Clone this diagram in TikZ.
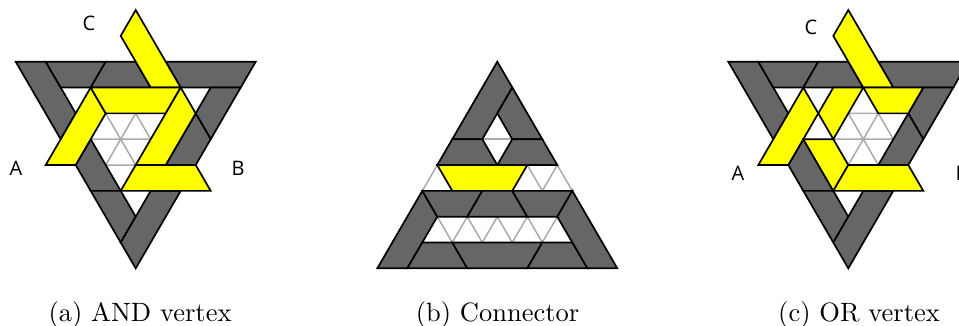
\documentclass[tikz,border=0pt]{standalone}
\usepackage{fontspec}
\newfontfamily\lblfont{Open Sans}
\definecolor{pgray}{HTML}{666666}
\definecolor{lgray}{HTML}{AAAAAA}
\definecolor{pyellow}{RGB}{255,255,0}
\tikzset{
  gp/.style={fill=pgray,draw=black,line width=1.7pt,line join=miter},
  yp/.style={fill=pyellow,draw=black,line width=1.7pt,line join=miter},
  gl/.style={draw=lgray,line width=1.5pt},
  lab/.style={font=\lblfont\fontsize{20}{22}\selectfont,inner sep=0pt},
  captext/.style={font=\fontsize{10}{12}\selectfont,inner sep=0pt,anchor=base,scale=2.65},
  panel/.style={shift={(#1pt,-61.7pt)},x=15pt,y=-25.83pt}
}
\newcommand{\vertexgray}{%
  \draw[gp] (-8,0)--(-6,0)--(-4,2)--(-5,3)--cycle;
  \draw[gp] (-6,0)--(-2,0)--(-3,1)--(-5,1)--cycle;
  \draw[gp] (-2,0)--(0,0)--(1,1)--(-3,1)--cycle;
  \draw[gp] (2,0)--(8,0)--(7,1)--(3,1)--cycle;
  \draw[gp] (5,1)--(7,1)--(5,3)--(4,2)--cycle;
  \draw[gp] (4,2)--(5,3)--(4,4)--(2,4)--cycle;
  \draw[gp] (-4,4)--(-3,3)--(-1,5)--(-3,5)--cycle;
  \draw[gp] (-3,5)--(-1,5)--(0,6)--(-1,7)--cycle;
  \draw[gp] (1,5)--(3,5)--(0,8)--(-1,7)--cycle;
}
\begin{document}
\begin{tikzpicture}
\useasboundingbox (0,0) rectangle (959pt,-325pt);
% (a) AND vertex
\begin{scope}[panel=135.7]
  \draw[gl] (-3,3)--(1,3) (-2,4)--(0,4) (0,2)--(-2,4) (-2,2)--(0,4) (0,2)--(1,3);
  \vertexgray
  \draw[yp] (0,-2)--(-1,-1)--(1,1)--(3,1)--cycle;
  \draw[yp] (-6,4)--(-3,1)--(-2,2)--(-4,4)--cycle;
  \draw[yp] (-3,1)--(3,1)--(2,2)--(-2,2)--cycle;
  \draw[yp] (3,1)--(4,2)--(2,4)--(0,4)--cycle;
  \draw[yp] (0,4)--(4,4)--(5,5)--(-1,5)--cycle;
\end{scope}
% (b) Connector
\begin{scope}[panel=497.3]
  \draw[gl] (-1,3)--(1,3);
  \draw[gl] (-5,5)--(-4,4) (2,4)--(3,5)--(4,4)--(5,5);
  \draw[gl] (-5,7)--(5,7) (-8,8)--(8,8);
  \draw[gl] (-4,6)--(-3,7)--(-2,6)--(-1,7)--(0,6)--(1,7)--(2,6)--(3,7)--(4,6);
  \draw[gp] (0,0)--(1,1)--(-1,3)--(-3,3)--cycle;
  \draw[gp] (1,1)--(3,3)--(1,3)--(0,2)--cycle;
  \draw[gp] (-3,3)--(-1,3)--(0,4)--(-4,4)--cycle;
  \draw[gp] (1,3)--(3,3)--(4,4)--(0,4)--cycle;
  \draw[yp] (-4,4)--(2,4)--(1,5)--(-3,5)--cycle;
  \draw[gp] (-5,5)--(-4,6)--(-6,8)--(-8,8)--cycle;
  \draw[gp] (-5,5)--(-1,5)--(-2,6)--(-4,6)--cycle;
  \draw[gp] (-1,5)--(1,5)--(2,6)--(-2,6)--cycle;
  \draw[gp] (1,5)--(5,5)--(4,6)--(2,6)--cycle;
  \draw[gp] (5,5)--(8,8)--(6,8)--(4,6)--cycle;
  \draw[gp] (-5,7)--(-3,7)--(-2,8)--(-6,8)--cycle;
  \draw[gp] (-3,7)--(3,7)--(2,8)--(-2,8)--cycle;
  \draw[gp] (3,7)--(5,7)--(6,8)--(2,8)--cycle;
\end{scope}
% (c) OR vertex
\begin{scope}[panel=848.3]
  \draw[gl] (0,2)--(2,2) (-1,3)--(3,3) (0,4)--(2,4) (0,2)--(2,4) (2,2)--(0,4) (2,2)--(3,3);
  \vertexgray
  \draw[yp] (0,-2)--(-1,-1)--(1,1)--(3,1)--cycle;
  \draw[yp] (-6,4)--(-3,1)--(-2,2)--(-4,4)--cycle;
  \draw[yp] (-1,1)--(1,1)--(-1,3)--(-2,2)--cycle;
  \draw[yp] (1,1)--(5,1)--(4,2)--(2,2)--cycle;
  \draw[yp] (-3,3)--(-1,3)--(0,4)--(-1,5)--cycle;
  \draw[yp] (0,4)--(4,4)--(5,5)--(-1,5)--cycle;
\end{scope}
\node[lab] (aC) at (89pt,-23pt) {C};
\node[lab] (aA) at (16pt,-168.5pt) {A};
\node[lab] (aB) at (238pt,-168.5pt) {B};
\node[lab] (cC) at (811pt,-27pt) {C};
\node[lab] (cA) at (738pt,-173pt) {A};
\node[lab] (cB) at (962pt,-173pt) {B};
\node[captext] (capa) at (140pt,-321pt) {(a) AND vertex};
\node[captext] (capb) at (497.5pt,-321pt) {(b) Connector};
\node[captext] (capc) at (859pt,-321pt) {(c) OR vertex};
\end{tikzpicture}
\end{document}
